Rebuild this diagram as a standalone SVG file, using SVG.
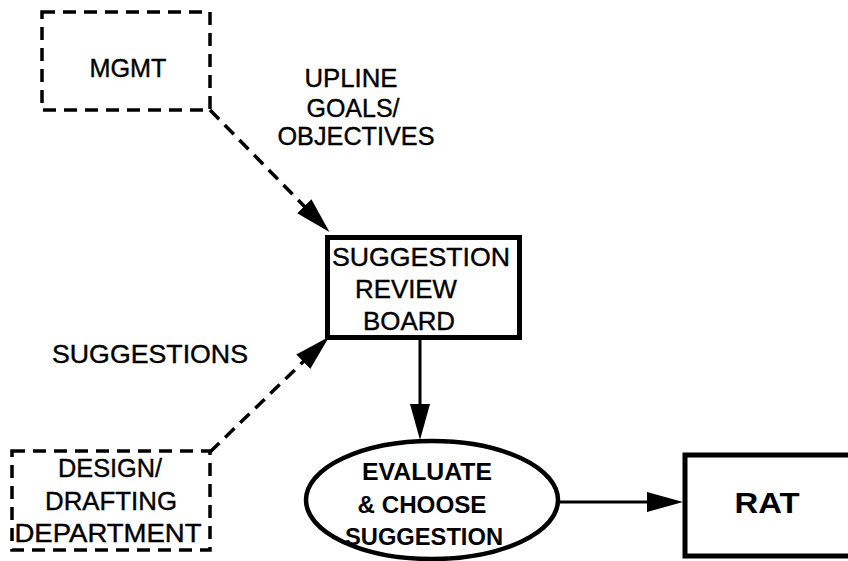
<svg xmlns="http://www.w3.org/2000/svg" width="848" height="561" viewBox="0 0 848 561">
  <style>
    text { font-family: "Liberation Sans", Arial, Helvetica, sans-serif; fill: #000; }
    .lbl { font-size: 26px; stroke: #000; stroke-width: 0.4; }
    .bold { font-size: 24px; font-weight: bold; }
    .dash { fill: none; stroke: #000; stroke-width: 3.5; stroke-dasharray: 13 8; }
    .solid { fill: #fff; stroke: #000; stroke-width: 5; }
    .flow { fill: none; stroke: #000; stroke-width: 3; }
  </style>
  <defs>
    <marker id="head" markerUnits="userSpaceOnUse" viewBox="0 0 36 20" markerWidth="36" markerHeight="20" refX="1" refY="10" orient="auto">
      <path d="M0,0 L36,10 L0,20 z" fill="#000"/>
    </marker>
  </defs>
  <rect width="848" height="561" fill="#fff"/>

  <!-- connectors -->
  <g id="connectors">
    <path class="dash" d="M210,110 L305,207" marker-end="url(#head)"/>
    <path class="dash" d="M210,452 L304,361" marker-end="url(#head)"/>
    <path class="flow" d="M420,340 L420,405" marker-end="url(#head)"/>
    <path class="flow" d="M560,502 L648,502" marker-end="url(#head)"/>
  </g>

  <!-- management -->
  <g id="mgmt">
    <rect class="dash" x="42" y="12" width="168" height="98"/>
    <text class="lbl" x="128" y="77" text-anchor="middle" textLength="77" lengthAdjust="spacingAndGlyphs">MGMT</text>
  </g>

  <!-- label on the management flow -->
  <g id="upline-label">
    <text class="lbl" x="351" y="87" text-anchor="middle" textLength="93" lengthAdjust="spacingAndGlyphs">UPLINE</text>
    <text class="lbl" x="353" y="117" text-anchor="middle" textLength="93" lengthAdjust="spacingAndGlyphs">GOALS/</text>
    <text class="lbl" x="356" y="145" text-anchor="middle" textLength="157" lengthAdjust="spacingAndGlyphs">OBJECTIVES</text>
  </g>

  <!-- label on the department flow -->
  <g id="suggestions-label">
    <text class="lbl" x="150" y="363" text-anchor="middle" textLength="196" lengthAdjust="spacingAndGlyphs">SUGGESTIONS</text>
  </g>

  <!-- review board -->
  <g id="review-board">
    <rect class="solid" x="327.5" y="237.5" width="192" height="100"/>
    <text class="lbl" x="421" y="266" text-anchor="middle" textLength="178" lengthAdjust="spacingAndGlyphs">SUGGESTION</text>
    <text class="lbl" x="406" y="298" text-anchor="middle" textLength="102" lengthAdjust="spacingAndGlyphs">REVIEW</text>
    <text class="lbl" x="409" y="330" text-anchor="middle" textLength="92" lengthAdjust="spacingAndGlyphs">BOARD</text>
  </g>

  <!-- design / drafting department -->
  <g id="design-dept">
    <rect class="dash" x="12" y="451" width="198" height="99"/>
    <text class="lbl" x="110" y="477" text-anchor="middle" textLength="104" lengthAdjust="spacingAndGlyphs">DESIGN/</text>
    <text class="lbl" x="111" y="510" text-anchor="middle" textLength="132" lengthAdjust="spacingAndGlyphs">DRAFTING</text>
    <text class="lbl" x="108" y="542" text-anchor="middle" textLength="187" lengthAdjust="spacingAndGlyphs">DEPARTMENT</text>
  </g>

  <!-- evaluation step -->
  <g id="evaluate">
    <ellipse cx="432" cy="500" rx="126" ry="59" fill="#fff" stroke="#000" stroke-width="4.5"/>
    <text class="bold" x="427" y="480" text-anchor="middle" textLength="130" lengthAdjust="spacingAndGlyphs">EVALUATE</text>
    <text class="bold" x="422" y="513" text-anchor="middle" textLength="129" lengthAdjust="spacingAndGlyphs">&amp; CHOOSE</text>
    <text class="bold" x="424" y="545" text-anchor="middle" textLength="158" lengthAdjust="spacingAndGlyphs">SUGGESTION</text>
  </g>

  <!-- RAT -->
  <g id="rat">
    <rect class="solid" x="685" y="455" width="200" height="101"/>
    <text x="767" y="513" text-anchor="middle" font-size="30" font-weight="bold" textLength="65" lengthAdjust="spacingAndGlyphs">RAT</text>
  </g>
</svg>
